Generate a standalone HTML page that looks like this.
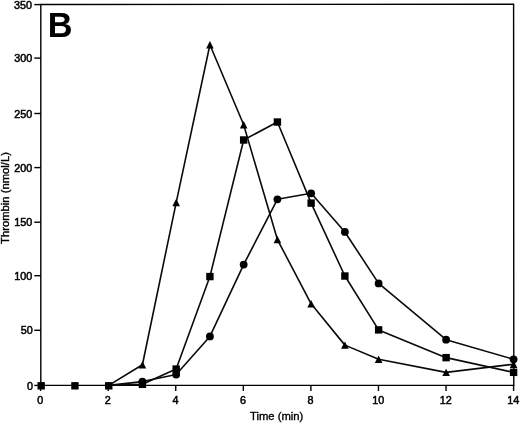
<!DOCTYPE html>
<html><head><meta charset="utf-8"><title>B</title>
<style>html,body{margin:0;padding:0;background:#fff}</style></head>
<body>
<svg width="520" height="423" viewBox="0 0 520 423" style="display:block">
<rect width="520" height="423" fill="#fff"/>
<g stroke="#000" stroke-width="1.4" fill="none">
<path d="M40.8,385.4 L40.8,4.5 L513.6,4.2 L513.8000000000001,385.4 Z"/>
<path d="M34.3,385.40 H40.8"/>
<path d="M34.3,330.30 H40.8"/>
<path d="M34.3,275.70 H40.8"/>
<path d="M34.3,222.20 H40.8"/>
<path d="M34.3,167.60 H40.8"/>
<path d="M34.3,113.50 H40.8"/>
<path d="M34.3,58.10 H40.8"/>
<path d="M34.3,4.60 H40.8"/>
<path d="M40.60,385.4 V390.9"/>
<path d="M108.17,385.4 V390.9"/>
<path d="M175.74,385.4 V390.9"/>
<path d="M243.31,385.4 V390.9"/>
<path d="M310.89,385.4 V390.9"/>
<path d="M378.46,385.4 V390.9"/>
<path d="M446.03,385.4 V390.9"/>
<path d="M513.60,385.4 V390.9"/>
</g>
<g stroke="#0a0a0a" stroke-width="1.6" fill="none" stroke-linejoin="round">
<path d="M108.69,385.40 L142.43,364.72 L176.17,202.57 L209.91,44.77 L243.66,124.76 L277.40,239.57 L311.14,303.78 L344.89,345.13 L378.63,359.28 L446.11,372.34 L513.60,364.18"/>
<path d="M108.69,385.40 L142.43,384.31 L176.17,369.08 L209.91,276.57 L243.66,139.99 L277.40,122.03 L311.14,203.11 L344.89,276.03 L378.63,329.90 L446.11,357.65 L513.60,372.34"/>
<path d="M108.69,385.40 L142.43,381.59 L176.17,374.52 L209.91,336.43 L243.66,264.60 L277.40,199.30 L311.14,193.32 L344.89,231.95 L378.63,283.43 L446.11,339.69 L513.60,359.28"/>
</g>
<g fill="#000">
<path d="M108.69,381.70 L112.49,389.10 L104.89,389.10 Z"/>
<path d="M142.43,361.02 L146.23,368.42 L138.63,368.42 Z"/>
<path d="M176.17,198.87 L179.97,206.27 L172.37,206.27 Z"/>
<path d="M209.91,41.07 L213.71,48.47 L206.11,48.47 Z"/>
<path d="M243.66,121.06 L247.46,128.46 L239.86,128.46 Z"/>
<path d="M277.40,235.87 L281.20,243.27 L273.60,243.27 Z"/>
<path d="M311.14,300.08 L314.94,307.48 L307.34,307.48 Z"/>
<path d="M344.89,341.43 L348.69,348.83 L341.09,348.83 Z"/>
<path d="M378.63,355.58 L382.43,362.98 L374.83,362.98 Z"/>
<path d="M446.11,368.64 L449.91,376.04 L442.31,376.04 Z"/>
<path d="M513.60,360.48 L517.40,367.88 L509.80,367.88 Z"/>
<rect x="37.50" y="382.10" width="7.4" height="7.4"/>
<rect x="71.24" y="382.10" width="7.4" height="7.4"/>
<rect x="104.99" y="382.10" width="7.4" height="7.4"/>
<rect x="138.73" y="380.61" width="7.4" height="7.4"/>
<rect x="172.47" y="365.38" width="7.4" height="7.4"/>
<rect x="206.21" y="272.87" width="7.4" height="7.4"/>
<rect x="239.96" y="136.29" width="7.4" height="7.4"/>
<rect x="273.70" y="118.33" width="7.4" height="7.4"/>
<rect x="307.44" y="199.41" width="7.4" height="7.4"/>
<rect x="341.19" y="272.33" width="7.4" height="7.4"/>
<rect x="374.93" y="326.20" width="7.4" height="7.4"/>
<rect x="442.41" y="353.95" width="7.4" height="7.4"/>
<rect x="509.90" y="368.64" width="7.4" height="7.4"/>
<circle cx="142.43" cy="381.59" r="3.9"/>
<circle cx="176.17" cy="374.52" r="3.9"/>
<circle cx="209.91" cy="336.43" r="3.9"/>
<circle cx="243.66" cy="264.60" r="3.9"/>
<circle cx="277.40" cy="199.30" r="3.9"/>
<circle cx="311.14" cy="193.32" r="3.9"/>
<circle cx="344.89" cy="231.95" r="3.9"/>
<circle cx="378.63" cy="283.43" r="3.9"/>
<circle cx="446.11" cy="339.69" r="3.9"/>
<circle cx="513.60" cy="359.28" r="3.9"/>
</g>
<g font-family="Liberation Sans, Arial, sans-serif" fill="#000" font-size="10.8px" stroke="#000" stroke-width="0.5">
<text x="33.10" y="389.50" text-anchor="end">0</text>
<text x="32.70" y="334.40" text-anchor="end">50</text>
<text x="32.30" y="279.80" text-anchor="end">100</text>
<text x="32.30" y="226.30" text-anchor="end">150</text>
<text x="32.30" y="171.70" text-anchor="end">200</text>
<text x="32.30" y="117.60" text-anchor="end">250</text>
<text x="32.30" y="62.20" text-anchor="end">300</text>
<text x="31.90" y="8.70" text-anchor="end">350</text>
<text x="40.30" y="404.3" text-anchor="middle">0</text>
<text x="107.87" y="404.3" text-anchor="middle">2</text>
<text x="175.44" y="404.3" text-anchor="middle">4</text>
<text x="243.01" y="404.3" text-anchor="middle">6</text>
<text x="310.59" y="404.3" text-anchor="middle">8</text>
<text x="378.16" y="404.3" text-anchor="middle">10</text>
<text x="445.73" y="404.3" text-anchor="middle">12</text>
<text x="513.30" y="404.3" text-anchor="middle">14</text>
<text x="276.6" y="419.6" text-anchor="middle" font-size="11.25px" stroke-width="0.35">Time (min)</text>
<text transform="translate(9.2,198) rotate(-90)" text-anchor="middle" font-size="11.25px" stroke-width="0.35">Thrombin (nmol/L)</text>
<text transform="translate(47.7,37.3) scale(1,1.04)" font-size="34.3px" font-weight="bold" stroke="none">B</text>
</g>
</svg>
</body></html>
